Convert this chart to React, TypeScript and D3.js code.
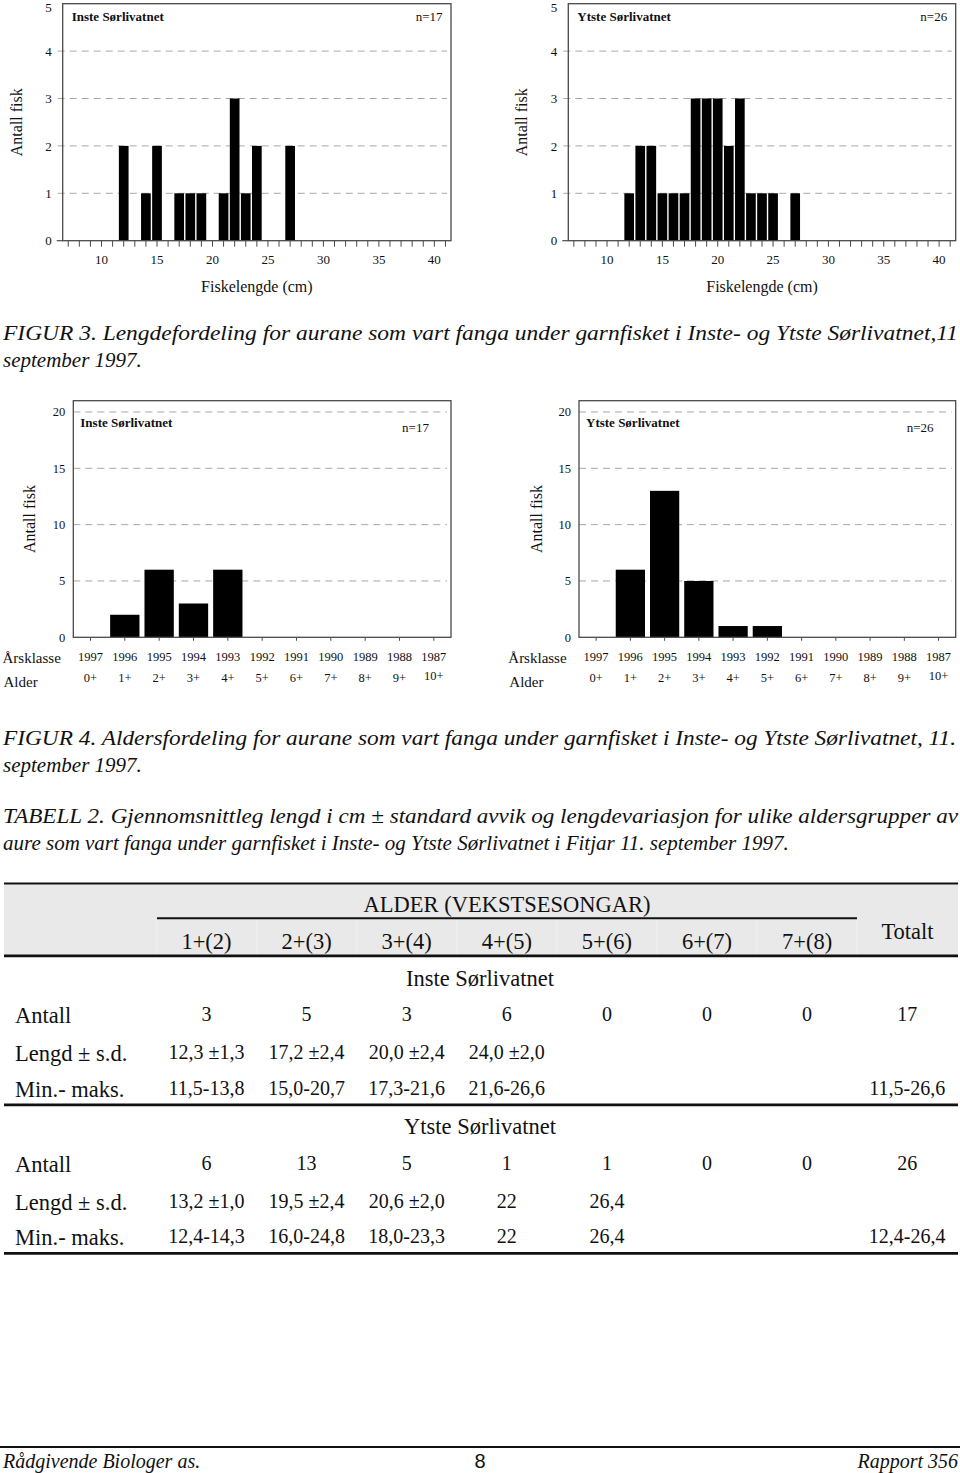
import React from 'react';
import * as d3 from 'd3';

// ---------- Data ----------
const lengthBinsInste = [12, 14, 15, 17, 18, 19, 21, 22, 23, 24, 27];
const countsInste = [2, 1, 2, 1, 1, 1, 1, 3, 1, 2, 2];
const lengthBinsYtste = [12, 13, 14, 15, 16, 17, 18, 19, 20, 21, 22, 23, 24, 25, 27];
const countsYtste = [1, 2, 2, 1, 1, 1, 3, 3, 3, 2, 3, 1, 1, 1, 1];
const lengthTicks = [10, 15, 20, 25, 30, 35, 40];
const lengthCountTicks = [0, 1, 2, 3, 4, 5];

const yearClasses = ['1997', '1996', '1995', '1994', '1993', '1992', '1991', '1990', '1989', '1988', '1987'];
const ageLabels = ['0+', '1+', '2+', '3+', '4+', '5+', '6+', '7+', '8+', '9+', '10+'];
const ageCountsInste = [0, 2, 6, 3, 6, 0, 0, 0, 0, 0, 0];
const ageCountsYtste = [0, 6, 13, 5, 1, 1, 0, 0, 0, 0, 0];
const ageCountTicks = [0, 5, 10, 15, 20];

const tableGroups = ['1+(2)', '2+(3)', '3+(4)', '4+(5)', '5+(6)', '6+(7)', '7+(8)'];
const insteAntall = ['3', '5', '3', '6', '0', '0', '0', '17'];
const insteLengd = ['12,3 ±1,3', '17,2 ±2,4', '20,0 ±2,4', '24,0 ±2,0', '', '', '', ''];
const insteMinMax = ['11,5-13,8', '15,0-20,7', '17,3-21,6', '21,6-26,6', '', '', '', '11,5-26,6'];
const ytsteAntall = ['6', '13', '5', '1', '1', '0', '0', '26'];
const ytsteLengd = ['13,2 ±1,0', '19,5 ±2,4', '20,6 ±2,0', '22', '26,4', '', '', ''];
const ytsteMinMax = ['12,4-14,3', '16,0-24,8', '18,0-23,3', '22', '26,4', '', '', '12,4-26,4'];

const SERIF = '"Liberation Serif", "Times New Roman", serif';
const FRAME = '#4a4a4a';
const GRID = '#a8a8a8';

function LengthChart(props: any) {
  const { left, right, top, bottom, bins, counts, title, n, ylabelX } = props;
  const x = d3.scaleLinear().domain([6.5, 41.5]).range([left, right]);
  const y = d3.scaleLinear().domain([0, 5]).range([bottom, top]);
  const step = x(1) - x(0);
  const bw = step - 1.4;
  const minor = d3.range(7, 42);
  return (
    <g fontFamily={SERIF} fill="#111">
      {lengthCountTicks.filter((t) => t > 0 && t < 5).map((t) => (
        <line key={'g' + t} x1={left - 5} x2={right - 4} y1={y(t)} y2={y(t)} stroke={GRID} strokeDasharray="7,5" strokeWidth={1} />
      ))}
      {bins.map((b: number, i: number) => (
        <rect key={'b' + i} x={x(b) - bw / 2} y={y(counts[i])} width={bw} height={y(0) - y(counts[i])} fill="#000" />
      ))}
      <rect x={left} y={top} width={right - left} height={bottom - top} fill="none" stroke={FRAME} strokeWidth={1.3} />
      <line x1={left - 6} x2={left} y1={y(0)} y2={y(0)} stroke={FRAME} strokeWidth={1.2} />
      {minor.map((t) => (
        <line key={'t' + t} x1={x(t)} x2={x(t)} y1={bottom} y2={bottom + 6} stroke={FRAME} strokeWidth={1} />
      ))}
      {lengthCountTicks.map((t) => (
        <text key={'yl' + t} x={left - 11} y={Math.max(y(t) + 4.6, 12)} textAnchor="end" fontSize={13}>{t}</text>
      ))}
      {lengthTicks.map((t) => (
        <text key={'xl' + t} x={x(t)} y={bottom + 23.5} textAnchor="middle" fontSize={13}>{t}</text>
      ))}
      <text x={(left + right) / 2} y={291.5} textAnchor="middle" fontSize={16}>Fiskelengde (cm)</text>
      <text transform={`translate(${ylabelX},${(top + bottom) / 2}) rotate(-90)`} textAnchor="middle" fontSize={16}>Antall fisk</text>
      <text x={left + 9} y={20.7} fontSize={13} fontWeight="bold">{title}</text>
      <text x={right - 8.5} y={21} fontSize={13} textAnchor="end">{n}</text>
    </g>
  );
}

function AgeChart(props: any) {
  const { left, right, top, bottom, counts, title, n, ylabelX, labelX } = props;
  const x = d3.scaleBand<string>().domain(yearClasses).range([left, right]).paddingInner(0.146).paddingOuter(0.073);
  const y = d3.scaleLinear().domain([0, 21]).range([bottom, top]);
  const bw = x.bandwidth();
  return (
    <g fontFamily={SERIF} fill="#111">
      {ageCountTicks.filter((t) => t > 0).map((t) => (
        <line key={'g' + t} x1={left} x2={right - 4} y1={y(t)} y2={y(t)} stroke={GRID} strokeDasharray="7,5" strokeWidth={1} />
      ))}
      {yearClasses.map((c, i) => (
        counts[i] > 0 ? <rect key={'b' + c} x={x(c)} y={y(counts[i])} width={bw} height={y(0) - y(counts[i])} fill="#000" /> : null
      ))}
      <rect x={left} y={top} width={right - left} height={bottom - top} fill="none" stroke={FRAME} strokeWidth={1.3} />
      {yearClasses.map((c) => (
        <line key={'t' + c} x1={(x(c) as number) + bw / 2} x2={(x(c) as number) + bw / 2} y1={bottom} y2={bottom + 3.5} stroke={FRAME} strokeWidth={1} />
      ))}
      {ageCountTicks.map((t) => (
        <text key={'yl' + t} x={left - 8} y={y(t)} dy="0.35em" textAnchor="end" fontSize={12.5}>{t}</text>
      ))}
      {yearClasses.map((c) => (
        <text key={'yc' + c} x={(x(c) as number) + bw / 2} y={661} textAnchor="middle" fontSize={12.5}>{c}</text>
      ))}
      {ageLabels.map((a, i) => (
        <text key={'al' + a} x={(x(yearClasses[i]) as number) + bw / 2} y={a === '10+' ? 680 : 681.5} textAnchor="middle" fontSize={12.5}>{a}</text>
      ))}
      <text x={labelX} y={663} fontSize={15}>Årsklasse</text>
      <text x={labelX + 1} y={687} fontSize={15}>Alder</text>
      <text transform={`translate(${ylabelX},${(top + bottom) / 2}) rotate(-90)`} textAnchor="middle" fontSize={16}>Antall fisk</text>
      <text x={left + 7} y={427.3} fontSize={13} fontWeight="bold">{title}</text>
      <text x={right - 35.5} y={431.7} fontSize={13} textAnchor="middle">{n}</text>
    </g>
  );
}

function Table() {
  const colX = (i: number) => 206.5 + 100.1 * i;
  const rows = [
    { label: 'Antall', vals: insteAntall, y: 1023 },
    { label: 'Lengd ± s.d.', vals: insteLengd, y: 1061 },
    { label: 'Min.- maks.', vals: insteMinMax, y: 1097 },
    { label: 'Antall', vals: ytsteAntall, y: 1172 },
    { label: 'Lengd ± s.d.', vals: ytsteLengd, y: 1210 },
    { label: 'Min.- maks.', vals: ytsteMinMax, y: 1245 },
  ];
  return (
    <g fontFamily={SERIF} fill="#111">
      <rect x={4} y={884.5} width={954} height={70.5} fill="#e9e9e9" />
      {d3.range(8).map((i) => (
        <line key={'sep' + i} x1={157 + 100 * i} x2={157 + 100 * i} y1={920} y2={955} stroke="#f1f1f1" strokeWidth={1} />
      ))}
      <line x1={4} x2={958} y1={883.5} y2={883.5} stroke="#111" strokeWidth={2.2} />
      <line x1={157} x2={857} y1={918.3} y2={918.3} stroke="#111" strokeWidth={2} />
      <line x1={4} x2={958} y1={955.8} y2={955.8} stroke="#111" strokeWidth={2.8} />
      <line x1={4} x2={958} y1={1104.8} y2={1104.8} stroke="#111" strokeWidth={2.8} />
      <line x1={4} x2={958} y1={1253.3} y2={1253.3} stroke="#111" strokeWidth={2.8} />
      <text x={507} y={912} textAnchor="middle" fontSize={22.5}>ALDER (VEKSTSESONGAR)</text>
      {tableGroups.map((g, i) => (
        <text key={'h' + g} x={colX(i)} y={949} textAnchor="middle" fontSize={22.5}>{g}</text>
      ))}
      <text x={907.5} y={939} textAnchor="middle" fontSize={22.5}>Totalt</text>
      <text x={480} y={986} textAnchor="middle" fontSize={22.5}>Inste Sørlivatnet</text>
      <text x={480} y={1134} textAnchor="middle" fontSize={22.5}>Ytste Sørlivatnet</text>
      {rows.map((r, ri) => (
        <g key={'r' + ri}>
          <text x={15} y={r.y} fontSize={22.5}>{r.label}</text>
          {r.vals.map((v, i) => (
            v ? <text key={'v' + i} x={colX(i)} y={r.y - 2.5} textAnchor="middle" fontSize={20}>{v}</text> : null
          ))}
        </g>
      ))}
    </g>
  );
}

export default function App() {
  const cap = { fontFamily: SERIF, fontStyle: 'italic' as const, fontSize: 21, fill: '#111' };
  return (
    <svg width={960} height={1473} style={{ position: 'absolute', left: 0, top: 0, background: '#fff' }}>
      <rect x={0} y={0} width={960} height={1473} fill="#fff" />
      <LengthChart left={62.7} right={451} top={3.7} bottom={240.7} bins={lengthBinsInste} counts={countsInste}
        title="Inste Sørlivatnet" n="n=17" ylabelX={21.5} />
      <LengthChart left={568.3} right={955.7} top={3.7} bottom={240.7} bins={lengthBinsYtste} counts={countsYtste}
        title="Ytste Sørlivatnet" n="n=26" ylabelX={526.5} />

      <text {...cap} x={3} y={340} textLength={955} lengthAdjust="spacingAndGlyphs">FIGUR 3. Lengdefordeling for aurane som vart fanga under garnfisket i Inste- og Ytste Sørlivatnet,11</text>
      <text {...cap} x={3} y={367}>september 1997.</text>

      <AgeChart left={73.3} right={451} top={400.7} bottom={637.3} counts={ageCountsInste}
        title="Inste Sørlivatnet" n="n=17" ylabelX={35} labelX={2.5} />
      <AgeChart left={579} right={955.7} top={400.7} bottom={637.3} counts={ageCountsYtste}
        title="Ytste Sørlivatnet" n="n=26" ylabelX={541.5} labelX={508.3} />

      <text {...cap} x={3} y={745} textLength={953} lengthAdjust="spacingAndGlyphs">FIGUR 4. Aldersfordeling for aurane som vart fanga under garnfisket i Inste- og Ytste Sørlivatnet, 11.</text>
      <text {...cap} x={3} y={772}>september 1997.</text>
      <text {...cap} x={3} y={823} textLength={955} lengthAdjust="spacingAndGlyphs">TABELL 2. Gjennomsnittleg lengd i cm ± standard avvik og lengdevariasjon for ulike aldersgrupper av</text>
      <text {...cap} x={3} y={850}>aure som vart fanga under garnfisket i Inste- og Ytste Sørlivatnet i Fitjar 11. september 1997.</text>

      <Table />

      <line x1={0} x2={960} y1={1447} y2={1447} stroke="#111" strokeWidth={2} />
      <text {...cap} fontSize={20} x={3} y={1468}>Rådgivende Biologer as.</text>
      <text x={480} y={1468} textAnchor="middle" fontSize={20} fontFamily='"Liberation Sans", Arial, sans-serif' fill="#111">8</text>
      <text {...cap} fontSize={20} x={958} y={1468} textAnchor="end">Rapport 356</text>
    </svg>
  );
}
